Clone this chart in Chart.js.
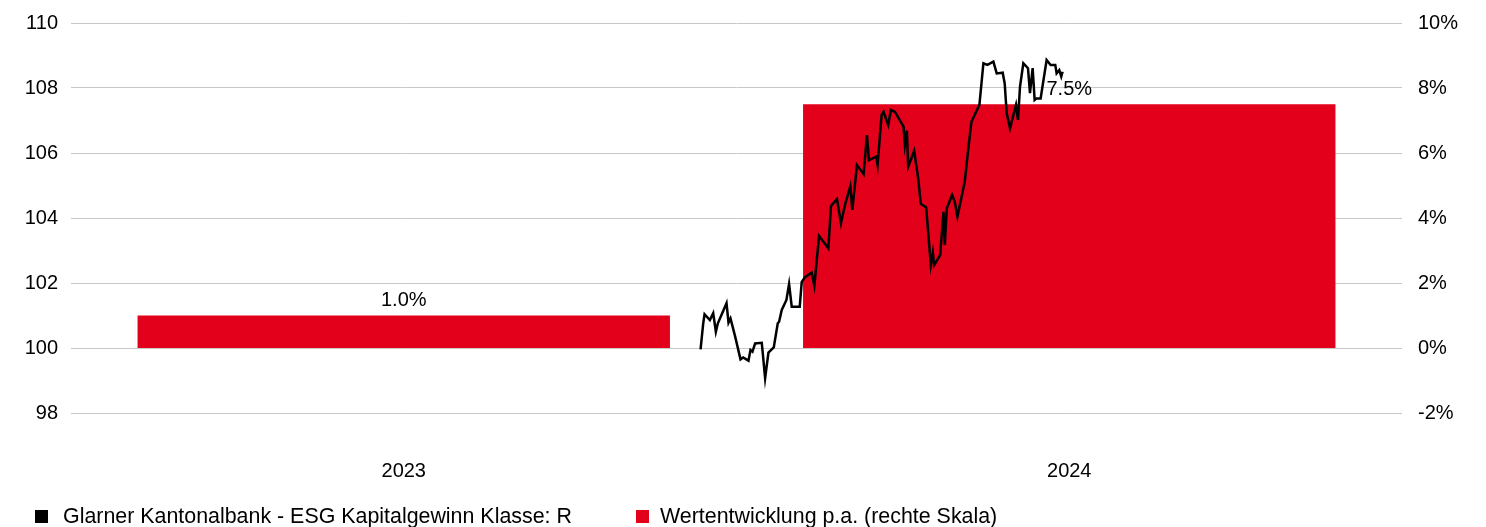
<!DOCTYPE html>
<html>
<head>
<meta charset="utf-8">
<script src="https://cdn.jsdelivr.net/npm/chart.js@4"></script>
<style>
  body { margin: 0; background: #fff; }
  #wrap { position: relative; width: 1486px; height: 527px; }
  #legend { position: absolute; left: 0; top: 504px; width: 1486px; height: 24px;
            font-family: "Liberation Sans", Arial, sans-serif; font-size: 21.4px; color: #000; }
  .item { position: absolute; top: 0; display: flex; align-items: center; height: 24px; white-space: nowrap; }
  .box { width: 13px; height: 13px; }
</style>
</head>
<body>
<div id="wrap">
  <canvas id="myChart" width="1486" height="527"></canvas>
  <div id="legend"></div>
</div>
<script>
// bars: annual performance (right axis, %)
const years = ['2023', '2024'];
const perfValues = [1.0, 7.5];

// fund price indexed to 100 (left axis), x in fractional years
const priceX = [2023.946, 2023.950, 2023.952, 2023.960, 2023.965, 2023.969, 2023.972, 2023.985, 2023.988, 2023.991,
  2023.998, 2024.006, 2024.010, 2024.018, 2024.021, 2024.024, 2024.028, 2024.038, 2024.043, 2024.048,
  2024.056, 2024.062, 2024.064, 2024.068, 2024.075, 2024.079, 2024.083, 2024.095, 2024.098, 2024.103,
  2024.113, 2024.117, 2024.124, 2024.138, 2024.142, 2024.151, 2024.157, 2024.163, 2024.171, 2024.174,
  2024.181, 2024.191, 2024.196, 2024.199, 2024.210, 2024.212, 2024.218, 2024.221, 2024.228, 2024.232,
  2024.238, 2024.251, 2024.253, 2024.256, 2024.258, 2024.267, 2024.273, 2024.277, 2024.285, 2024.292,
  2024.295, 2024.297, 2024.306, 2024.311, 2024.313, 2024.316, 2024.324, 2024.328, 2024.332, 2024.343,
  2024.347, 2024.353, 2024.365, 2024.371, 2024.377, 2024.386, 2024.391, 2024.400, 2024.403, 2024.406,
  2024.411, 2024.420, 2024.423, 2024.426, 2024.431, 2024.438, 2024.441, 2024.445, 2024.448, 2024.451,
  2024.457, 2024.466, 2024.472, 2024.479, 2024.481, 2024.485, 2024.488, 2024.490];
const priceY = [99.96, 100.76, 101.04, 100.86, 101.07, 100.50, 100.76, 101.38, 100.78, 100.91,
  100.35, 99.65, 99.71, 99.61, 99.94, 99.89, 100.14, 100.16, 99.07, 99.86,
  100.02, 100.76, 100.81, 101.17, 101.48, 101.97, 101.27, 101.27, 102.03, 102.18,
  102.32, 101.91, 103.45, 103.07, 104.37, 104.58, 103.84, 104.40, 104.98, 104.25,
  105.63, 105.35, 106.55, 105.78, 105.89, 105.63, 107.17, 107.27, 106.86, 107.32,
  107.27, 106.81, 106.25, 106.69, 105.58, 106.07, 105.22, 104.43, 104.33, 102.55,
  102.93, 102.55, 102.86, 104.19, 103.17, 104.30, 104.71, 104.50, 104.04, 105.12,
  105.89, 106.96, 107.48, 108.76, 108.71, 108.81, 108.45, 108.47, 108.14, 107.22,
  106.76, 107.48, 107.02, 108.04, 108.76, 108.61, 107.84, 108.61, 107.63, 107.68,
  107.68, 108.86, 108.71, 108.71, 108.45, 108.55, 108.35, 108.50];

const lineLabel = 'Glarner Kantonalbank - ESG Kapitalgewinn Klasse: R';
const barLabel = 'Wertentwicklung p.a. (rechte Skala)';
const red = '#e2001a';
const fontFamily = '"Liberation Sans", Arial, sans-serif';

let points = priceX.map((x, i) => ({ x: x, y: priceY[i] }));

// value labels above the bars, drawn before the line so the line sits on top
const barLabels = {
    id: 'barLabels',
    afterDatasetDraw(chart, args) {
        if (args.index !== 1) return;
        const ctx = chart.ctx;
        ctx.save();
        ctx.font = '20px ' + fontFamily;
        ctx.fillStyle = '#000';
        ctx.textAlign = 'center';
        ctx.textBaseline = 'middle';
        args.meta.data.forEach((bar, i) => {
            ctx.fillText(perfValues[i].toFixed(1) + '%', bar.x, bar.y - 15);
        });
        ctx.restore();
    }
};

// y axes: fixed width, no extra vertical padding for tick labels
const fitY = (width) => (s) => {
    s.width = width;
    s.paddingTop = 0;
    s.paddingBottom = 0;
};

const config = {
    type: 'bar',
    data: {
        labels: years,
        datasets: [{
            type: 'line',
            label: lineLabel,
            data: points,
            xAxisID: 'x2',
            yAxisID: 'y',
            borderColor: '#000',
            backgroundColor: '#000',
            borderWidth: 2.5,
            pointRadius: 0,
            tension: 0
        }, {
            type: 'bar',
            label: barLabel,
            data: perfValues,
            xAxisID: 'x',
            yAxisID: 'y1',
            backgroundColor: red,
            grouped: false,
            categoryPercentage: 1,
            barPercentage: 0.8
        }]
    },
    options: {
        responsive: false,
        animation: false,
        layout: { padding: { top: 23, bottom: 44, left: 0, right: 0 } },
        plugins: {
            legend: { display: false },
            tooltip: { enabled: false }
        },
        scales: {
            x: {
                type: 'category',
                grid: { display: false, drawTicks: false },
                border: { display: false },
                ticks: { color: '#000', font: { family: fontFamily, size: 20 }, padding: 46 },
                afterFit: (s) => { s.height = 70; }
            },
            x2: {
                type: 'linear',
                display: false,
                offset: false,
                min: 2023,
                max: 2025
            },
            y: {
                position: 'left',
                min: 98,
                max: 110,
                grid: { color: '#c8c8c8', lineWidth: 1, drawTicks: false },
                border: { display: false },
                ticks: { stepSize: 2, color: '#000', font: { family: fontFamily, size: 20 }, padding: 13 },
                afterFit: fitY(71)
            },
            y1: {
                position: 'right',
                min: -2,
                max: 10,
                grid: { display: false, drawTicks: false },
                border: { display: false },
                ticks: {
                    stepSize: 2, color: '#000', font: { family: fontFamily, size: 20 }, padding: 16,
                    callback: (v) => v + '%'
                },
                afterFit: fitY(84)
            }
        }
    },
    plugins: [barLabels]
};

let myChart = new Chart(document.getElementById('myChart'), config);

// legend below the plot
let legend = document.getElementById('legend');
[[lineLabel, '#000', 35, 15], [barLabel, red, 636, 11]].forEach(([text, color, left, gap]) => {
    let item = document.createElement('div');
    item.className = 'item';
    item.style.left = left + 'px';
    item.innerHTML = '<span class="box" style="background:' + color + ';margin-right:' + gap + 'px"></span><span>' + text + '</span>';
    legend.appendChild(item);
});
</script>
</body>
</html>
